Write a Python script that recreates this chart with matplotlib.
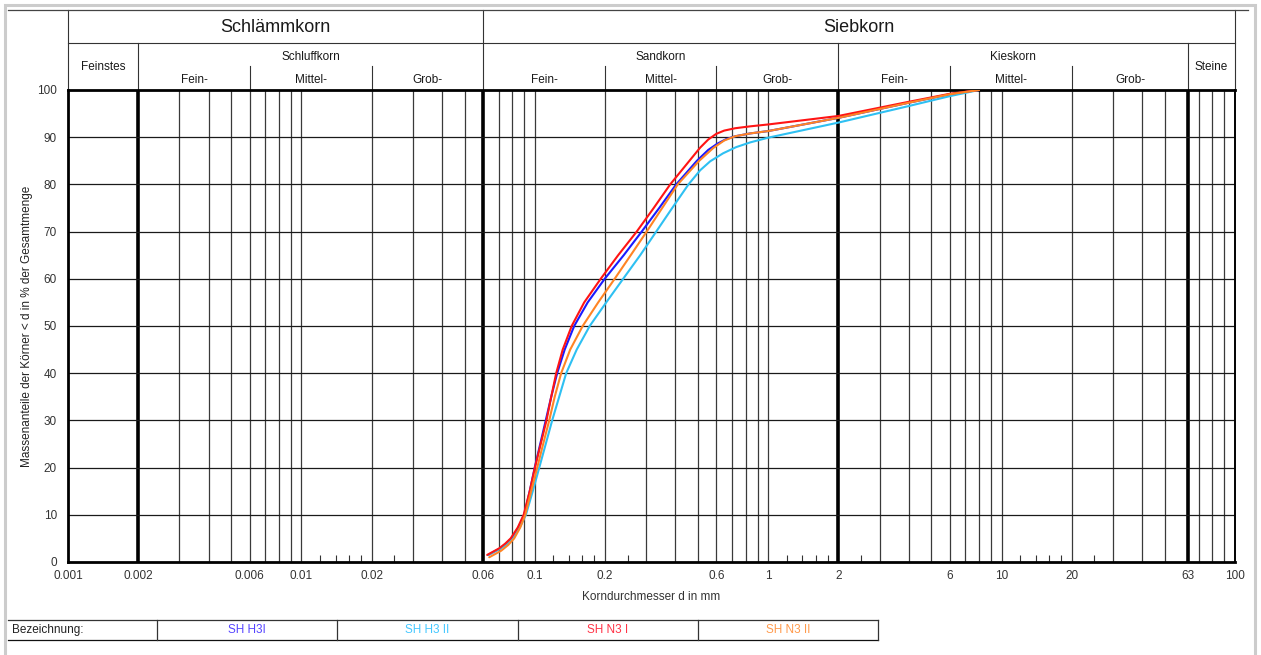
import matplotlib
matplotlib.use("Agg")
import matplotlib.pyplot as plt
from matplotlib.lines import Line2D
from matplotlib.patches import Rectangle
from matplotlib.ticker import NullFormatter

plt.rcParams['font.family'] = ['Liberation Sans', 'DejaVu Sans']

# grain size curves (d in mm, passing in %)
h3i_d = [0.0632, 0.0711, 0.0754, 0.0795, 0.0849, 0.0901, 0.0951, 0.0999, 0.1055, 0.1114,
         0.1176, 0.1247, 0.1343, 0.1475, 0.1685, 0.1993, 0.2404, 0.2871, 0.3412, 0.4035,
         0.4949, 0.5533, 0.6045, 0.6607, 0.7221, 0.8373, 1.0, 2.0, 4.0, 6.0, 8.0]
h3i_p = [1.5, 2.9, 3.9, 5.0, 7.2, 10, 15, 20, 25, 30,
         35, 40, 45, 50, 55, 60, 65, 70, 75, 80,
         85, 87.3, 88.6, 89.6, 90.2, 90.8, 91.3, 94.1, 97.3, 99.1, 100]

h3ii_d = [0.0632, 0.0711, 0.0762, 0.0808, 0.0866, 0.0916, 0.0980, 0.1045, 0.1114, 0.1187,
          0.1272, 0.1363, 0.1512, 0.1719, 0.2023, 0.2391, 0.2829, 0.3313, 0.3879, 0.4555,
          0.5113, 0.5644, 0.6414, 0.7293, 0.8373, 1.0, 2.0, 4.0, 6.0, 8.0]
h3ii_p = [1.5, 2.8, 3.8, 5.0, 7.5, 10, 15, 20, 25, 30,
          35, 40, 45, 50, 55, 60, 65, 70, 75, 80,
          83, 84.9, 86.6, 87.9, 88.9, 89.9, 93.1, 96.6, 98.7, 100]

n3i_d = [0.0625, 0.0704, 0.0747, 0.0788, 0.0845, 0.0896, 0.0951, 0.1001, 0.1060, 0.1122,
         0.1176, 0.1235, 0.1317, 0.1439, 0.1628, 0.1916, 0.2276, 0.2733, 0.3232, 0.3803,
         0.4632, 0.5113, 0.5533, 0.5986, 0.6478, 0.7221, 0.8373, 1.0, 2.0, 4.0, 6.0, 8.0]
n3i_p = [1.5, 2.9, 3.9, 5.0, 7.3, 10, 15, 20, 25, 30,
         35, 40, 45, 50, 55, 60, 65, 70, 75, 80,
         85.2, 87.8, 89.5, 90.7, 91.4, 91.9, 92.3, 92.7, 94.5, 97.5, 99.2, 100]

n3ii_d = [0.0638, 0.0718, 0.0769, 0.0816, 0.0866, 0.0910, 0.0965, 0.1024, 0.1086, 0.1153,
          0.1217, 0.1297, 0.1418, 0.1604, 0.1869, 0.2199, 0.2576, 0.3016, 0.3514, 0.4096,
          0.5063, 0.5812, 0.6478, 0.7221, 0.8373, 1.0, 2.0, 4.0, 6.0, 8.0]
n3ii_p = [1.0, 2.4, 3.6, 5, 7.3, 10, 15, 20, 25, 30,
          35, 40, 45, 50, 55, 60, 65, 70, 75, 80,
          85, 87.7, 89.3, 90.2, 90.8, 91.3, 94.1, 97.3, 99.1, 100]

names = ["SH H3I", "SH H3 II", "SH N3 I", "SH N3 II"]
line_colors = ["#1a1aff", "#2ec0f2", "#ff1414", "#ff8424"]
name_colors = ["#5544ff", "#44c8ff", "#ff3346", "#ff9a4c"]

x_ticks = [0.001, 0.002, 0.006, 0.01, 0.02, 0.06, 0.1, 0.2, 0.6, 1, 2, 6, 10, 20, 63, 100]
x_tick_labels = ["0.001", "0.002", "0.006", "0.01", "0.02", "0.06", "0.1", "0.2", "0.6",
                 "1", "2", "6", "10", "20", "63", "100"]
y_ticks = [0, 10, 20, 30, 40, 50, 60, 70, 80, 90, 100]

grid_x = [0.003, 0.004, 0.005, 0.006, 0.007, 0.008, 0.009, 0.01, 0.02, 0.03, 0.04, 0.05,
          0.07, 0.08, 0.09, 0.1, 0.2, 0.3, 0.4, 0.5, 0.6, 0.7, 0.8, 0.9, 1,
          3, 4, 5, 6, 7, 8, 9, 10, 20, 30, 40, 50, 70, 80, 90]
thick_x = [0.002, 0.06, 2, 63]
small_ticks = [0.012, 0.014, 0.016, 0.018, 0.025, 0.12, 0.14, 0.16, 0.18, 0.25,
               1.2, 1.4, 1.6, 1.8, 2.5, 12, 14, 16, 18, 25]

main_groups = [("Schlämmkorn", 0.001, 0.06), ("Siebkorn", 0.06, 100)]
single_groups = [("Feinstes", 0.001, 0.002), ("Steine", 63, 100)]
groups = [("Schluffkorn", 0.002, 0.06), ("Sandkorn", 0.06, 2), ("Kieskorn", 2, 63)]
sub_groups = [("Fein-", 0.002, 0.006), ("Mittel-", 0.006, 0.02), ("Grob-", 0.02, 0.06),
              ("Fein-", 0.06, 0.2), ("Mittel-", 0.2, 0.6), ("Grob-", 0.6, 2),
              ("Fein-", 2, 6), ("Mittel-", 6, 20), ("Grob-", 20, 63)]

W, H = 1261, 655
fig = plt.figure(figsize=(W / 100, H / 100), dpi=100)
fig.patch.set_facecolor("white")

def fx(x):
    return x / W

def fy(y):
    return 1 - y / H

ax = fig.add_axes([fx(68), fy(562), (1235 - 68) / W, (562 - 90) / H])
ax.set_xscale("log")
ax.set_xlim(0.001, 100)
ax.set_ylim(0, 100)

# grid
for v in grid_x:
    ax.axvline(v, color="#3a3a3a", lw=0.9, zorder=1)
for v in thick_x:
    ax.axvline(v, color="black", lw=2.6, zorder=1)
for v in y_ticks[1:-1]:
    ax.axhline(v, color="#1a1a1a", lw=0.9, zorder=1)

for sp in ax.spines.values():
    sp.set_linewidth(2.0)
ax.spines["right"].set_linewidth(1.4)

ax.set_xticks(x_ticks)
ax.set_xticklabels(x_tick_labels)
ax.set_xticks(small_ticks, minor=True)
ax.xaxis.set_minor_formatter(NullFormatter())
ax.tick_params(axis="x", which="major", length=0, pad=6, labelsize=8.5, labelcolor="#333333")
ax.tick_params(axis="x", which="minor", direction="in", length=5, width=0.8, color="#333333")
ax.set_yticks(y_ticks)
ax.tick_params(axis="y", length=0, pad=8, labelsize=8.5, labelcolor="#333333")

# curves
series = [(h3i_d, h3i_p), (h3ii_d, h3ii_p), (n3i_d, n3i_p), (n3ii_d, n3ii_p)]
for (d, p), c in zip(series, line_colors):
    ax.plot(d, p, color=c, lw=1.5, zorder=3, solid_capstyle="round", solid_joinstyle="round")

# header table
tr = ax.get_xaxis_transform()

def ay(y):
    return (562 - y) / 472

hl = dict(color="#333333", lw=0.8, transform=tr, clip_on=False)
ax.plot([0.001, 100], [ay(43), ay(43)], **hl)
for v in [0.001, 0.06, 100]:
    ax.plot([v, v], [ay(10), 1], **hl)
for v in [0.002, 2, 63]:
    ax.plot([v, v], [ay(43), 1], **hl)
for name, a, b in sub_groups[1:]:
    if a not in (0.06, 2):
        ax.plot([a, a], [ay(66), 1], **hl)
fig.add_artist(Line2D([fx(8), fx(1248)], [fy(10), fy(10)], color="#444444", lw=0.9))

def mid(a, b):
    return (a * b) ** 0.5

for name, a, b in main_groups:
    ax.text(mid(a, b), ay(28), name, transform=tr, ha="center", va="center",
            fontsize=13, color="#1a1a1a")
for name, a, b in single_groups:
    ax.text(mid(a, b), ay(67), name, transform=tr, ha="center", va="center",
            fontsize=8.5, color="#1a1a1a")
for name, a, b in groups:
    ax.text(mid(a, b), ay(57), name, transform=tr, ha="center", va="center",
            fontsize=8.5, color="#1a1a1a")
for name, a, b in sub_groups:
    ax.text(mid(a, b), ay(80), name, transform=tr, ha="center", va="center",
            fontsize=8.5, color="#1a1a1a")

# axis titles
fig.text(fx(27), fy(326), "Massenanteile der Körner < d in % der Gesamtmenge", rotation=90,
         ha="center", va="center", fontsize=8.5, color="#222222")
fig.text(fx(651), fy(597), "Korndurchmesser d in mm", ha="center", va="center",
         fontsize=8.5, color="#333333")

# legend table
cells = [8, 157, 337, 518, 698, 878]
fig.add_artist(Line2D([fx(8), fx(878)], [fy(620), fy(620)], color="#333333", lw=0.9))
fig.add_artist(Line2D([fx(8), fx(878)], [fy(640), fy(640)], color="#111111", lw=0.9))
for xv in cells[1:]:
    fig.add_artist(Line2D([fx(xv), fx(xv)], [fy(620), fy(640)], color="#333333", lw=0.9))
fig.text(fx(12), fy(630), "Bezeichnung:", ha="left", va="center", fontsize=8.5, color="#222222")
for i, (name, c) in enumerate(zip(names, name_colors)):
    xc = (cells[i + 1] + cells[i + 2]) / 2
    fig.text(fx(xc), fy(630), name, ha="center", va="center", fontsize=8.5, color=c)

# page frame
fig.add_artist(Rectangle((fx(5), fy(670)), fx(1250), (670 - 5) / H, fill=False,
                         edgecolor="#cccccc", lw=2.2))

fig.savefig("out.png", dpi=100)
